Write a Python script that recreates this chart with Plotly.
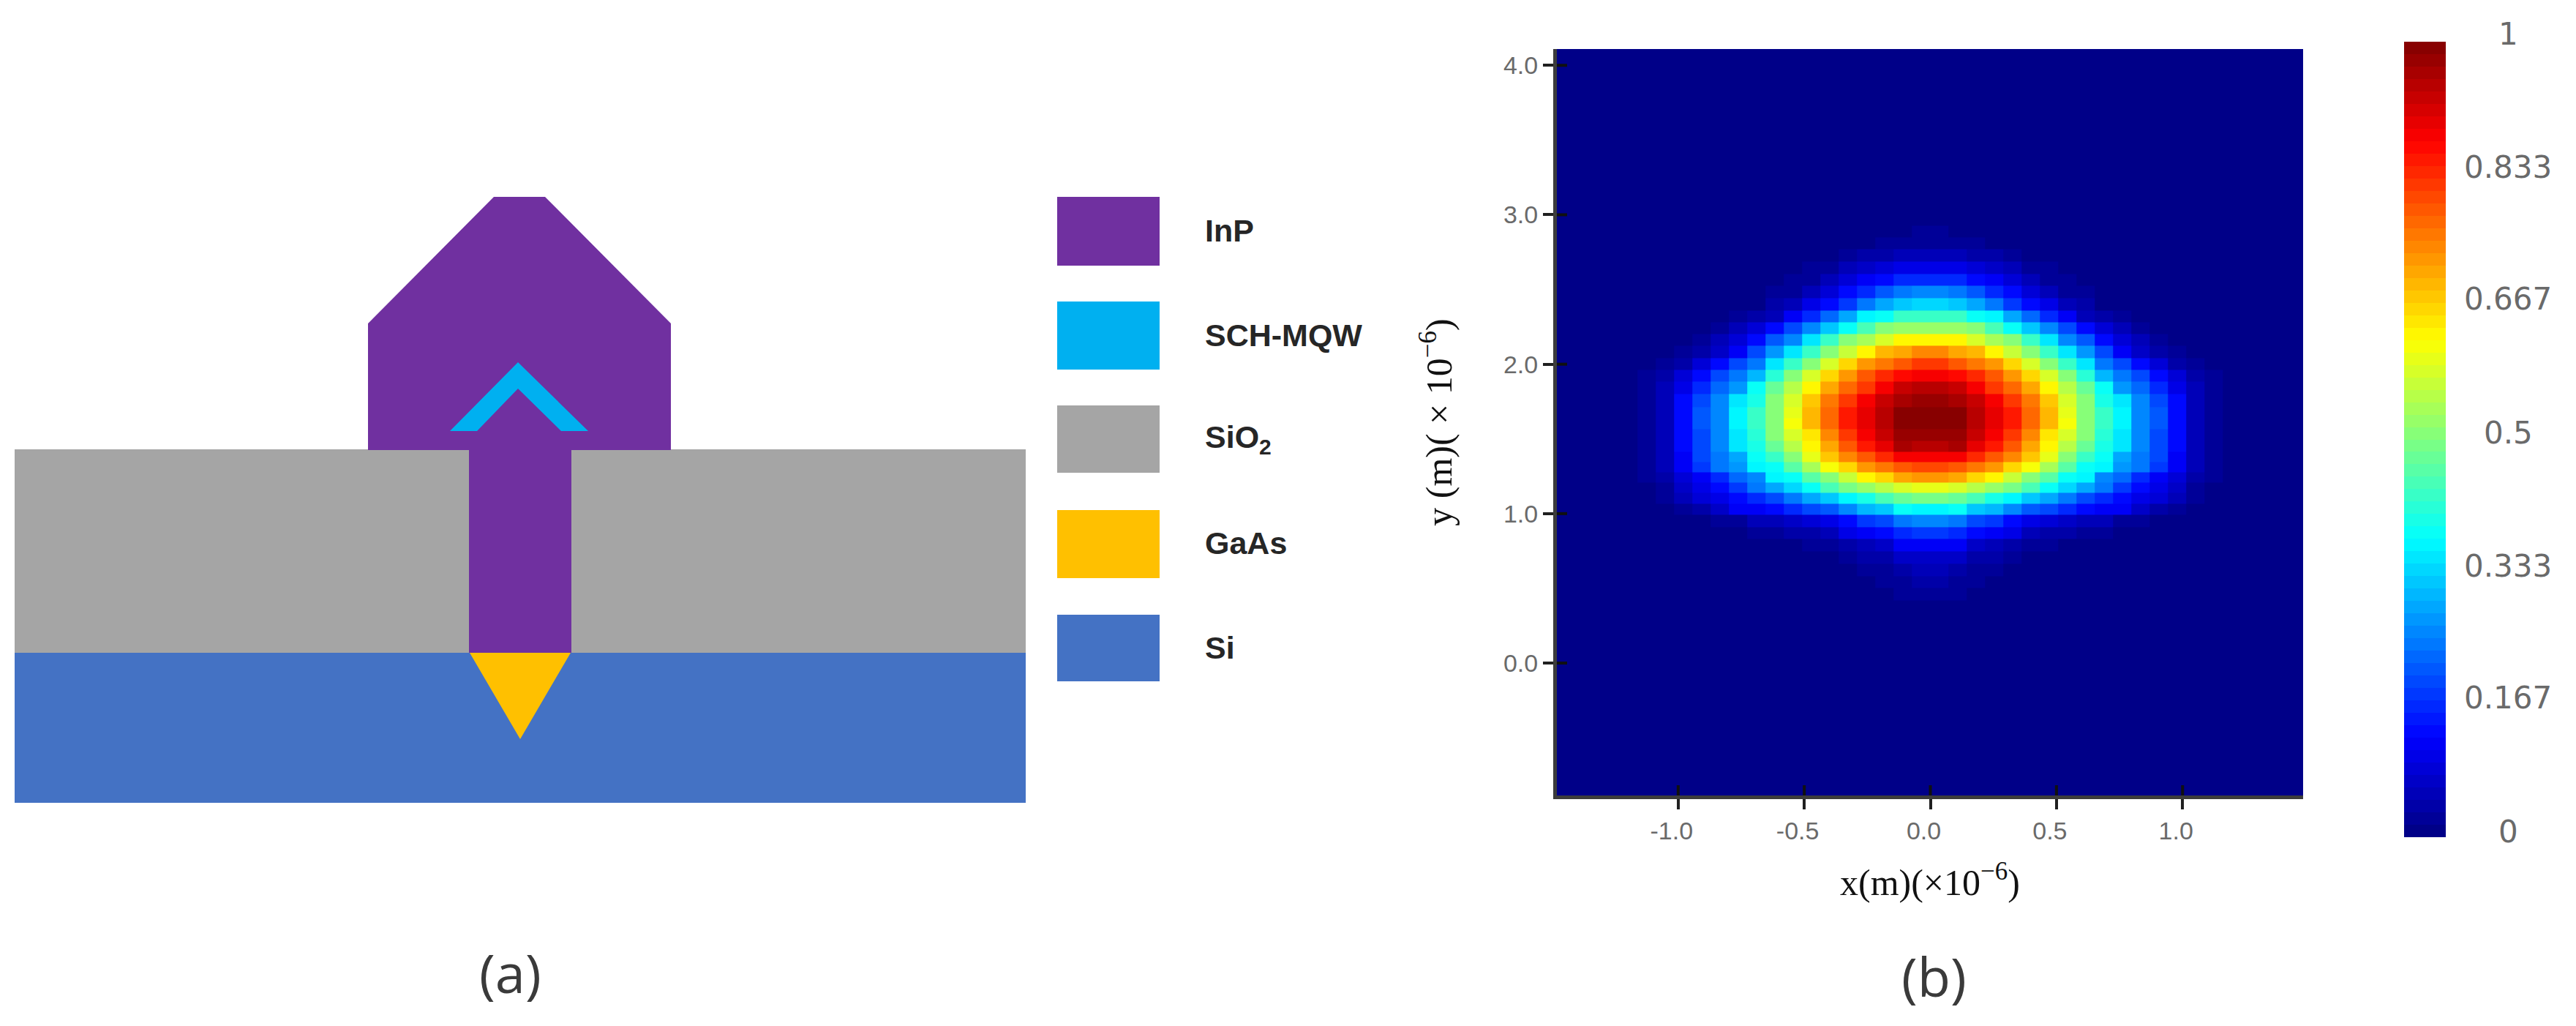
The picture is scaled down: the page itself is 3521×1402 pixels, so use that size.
import plotly.graph_objects as go

# ---------- panel (b): optical field ----------
# x cell edges from the centre outwards (mirrored below)
x_half_edges = [0, 0.0725, 0.145, 0.2175, 0.29, 0.3625, 0.435, 0.5075, 0.58, 0.6525,
                0.725, 0.7975, 0.87, 0.9425, 1.015, 1.0875, 1.16, 1.2325, 1.55]
# y cell edges from the top down
y_edges = [4.2, 3.012, 2.928, 2.850, 2.772, 2.685, 2.605, 2.524, 2.440, 2.360, 2.279, 2.200,
           2.122, 2.042, 1.964, 1.882, 1.801, 1.714, 1.641, 1.567, 1.489, 1.415, 1.347,
           1.278, 1.210, 1.141, 1.068, 0.994, 0.911, 0.833, 0.749, 0.666, 0.583, 0.504,
           0.421, 0.338, 0.260, -1.0]
# one row per y cell (between the two outer cells); columns run from the centre outwards
field_rows = [
    [.01, .005],
    [.02, .015, .01, .005],
    [.03, .025, .02, .015, .01],
    [.06, .05, .045, .035, .025, .015, .01, .005],
    [.10, .10, .09, .07, .05, .03, .02, .01, .005],
    [.165, .16, .13, .12, .09, .06, .03, .02, .01],
    [.25, .24, .21, .17, .125, .09, .05, .03, .02, .005],
    [.34, .32, .29, .24, .18, .14, .10, .06, .035, .015, .005],
    [.435, .425, .38, .36, .29, .225, .165, .11, .06, .04, .02, .01],
    [.53, .52, .50, .445, .385, .32, .255, .19, .125, .09, .05, .025, .01],
    [.64, .625, .585, .54, .50, .425, .355, .265, .21, .13, .09, .05, .03, .01],
    [.735, .715, .69, .64, .575, .51, .435, .35, .28, .19, .12, .075, .045, .02, .01],
    [.815, .795, .765, .72, .67, .585, .51, .43, .355, .235, .19, .13, .085, .04, .02, .01],
    [.875, .865, .84, .79, .72, .66, .585, .50, .415, .31, .235, .19, .14, .085, .04, .02, .01],
    [.945, .93, .89, .825, .775, .71, .635, .555, .475, .375, .275, .225, .17, .10, .05, .025, .01],
    [.978, .965, .93, .875, .825, .75, .68, .58, .50, .40, .345, .255, .195, .125, .055, .025, .01],
    [1.0, .985, .94, .895, .85, .77, .69, .60, .51, .43, .36, .265, .21, .125, .055, .025, .01],
    [1.0, .99, .945, .90, .85, .77, .69, .61, .51, .435, .36, .265, .21, .125, .055, .025, .01],
    [.98, .975, .93, .875, .815, .745, .65, .59, .51, .42, .345, .265, .20, .125, .055, .025, .01],
    [.945, .965, .90, .85, .795, .71, .64, .56, .48, .40, .345, .255, .20, .125, .055, .025, .01],
    [.875, .875, .835, .79, .735, .68, .60, .51, .435, .375, .29, .235, .19, .12, .055, .025, .01],
    [.805, .785, .765, .73, .67, .615, .54, .455, .39, .36, .275, .235, .175, .115, .05, .025, .01],
    [.72, .705, .67, .625, .575, .50, .455, .385, .365, .265, .225, .165, .12, .085, .04, .02, .01],
    [.605, .59, .56, .52, .49, .445, .385, .33, .29, .235, .18, .13, .105, .07, .03, .01],
    [.49, .48, .445, .405, .37, .32, .285, .245, .20, .165, .125, .105, .08, .05, .02, .01],
    [.37, .375, .325, .305, .255, .215, .19, .165, .125, .12, .11, .07, .04, .02, .01],
    [.265, .245, .19, .18, .14, .095, .08, .07, .06, .05, .03, .02, .01],
    [.175, .165, .125, .12, .10, .055, .045, .035, .025, .02, .01],
    [.12, .11, .07, .06, .045, .025, .02, .015, .01],
    [.075, .065, .04, .035, .025, .015, .01, .005],
    [.05, .045, .025, .02, .015, .01],
    [.035, .03, .02, .015, .01],
    [.025, .02, .01],
    [.015, .01],
    [.01, .005],
]
x_ticks = [-1.0, -0.5, 0.0, 0.5, 1.0]
x_tick_labels = ["-1.0", "-0.5", "0.0", "0.5", "1.0"]
y_ticks = [0.0, 1.0, 2.0, 3.0, 4.0]
y_tick_labels = ["0.0", "1.0", "2.0", "3.0", "4.0"]
bar_values = [0, 0.167, 0.333, 0.5, 0.667, 0.833, 1]
bar_labels = ["0", "0.167", "0.333", "0.5", "0.667", "0.833", "1"]

# ---------- panel (a): cross-section, in schematic units ----------
gray_x = [20, 1402, 1402, 20, 20]
gray_y = [614, 614, 892, 892, 614]
si_x = [20, 1402, 1402, 20, 20]
si_y = [892, 892, 1097, 1097, 892]
inp_x = [675, 745, 917, 917, 781, 781, 641, 641, 503, 503, 675]
inp_y = [269, 269, 442, 615, 615, 892, 892, 615, 615, 442, 269]
mqw_x = [708, 804, 767, 708, 652, 615, 708]
mqw_y = [495, 589, 589, 531, 589, 589, 495]
gaas_x = [642, 780, 711, 642]
gaas_y = [892, 892, 1010, 892]

legend_names = ["InP", "SCH-MQW", "SiO<sub>2</sub>", "GaAs", "Si"]
legend_colors = ["#7030A0", "#00B0F0", "#A5A5A5", "#FFC000", "#4472C4"]
legend_tops = [269, 412, 554, 697, 840]
legend_bottoms = [363, 505, 646, 790, 931]
legend_text_y = [315, 458, 600, 742, 885]

W, H = 3521, 1402
HX0, HX1, HY0, HY1 = 2128, 3148, 67, 1087

fig = go.Figure()


def poly(xs, ys, color, name):
    fig.add_trace(go.Scatter(x=xs, y=ys, mode="lines", fill="toself", fillcolor=color,
                             line=dict(width=0, color=color), name=name, showlegend=False,
                             xaxis="x2", yaxis="y2", hoverinfo="name"))


poly(gray_x, gray_y, "#A5A5A5", "SiO2")
poly(si_x, si_y, "#4472C4", "Si")
poly(inp_x, inp_y, "#7030A0", "InP")
poly(mqw_x, mqw_y, "#00B0F0", "SCH-MQW")
poly(gaas_x, gaas_y, "#FFC000", "GaAs")

for name, color, top, bottom in zip(legend_names, legend_colors, legend_tops, legend_bottoms):
    poly([1445, 1585, 1585, 1445, 1445], [top, top, bottom, bottom, top], color, name)

# heat map ------------------------------------------------------------
n_half = len(x_half_edges) - 1
x_edges = [-v for v in x_half_edges[:0:-1]] + x_half_edges
rows = [[0.0] * n_half] + [r + [0.0] * (n_half - len(r)) for r in field_rows] + [[0.0] * n_half]
z = [r[::-1] + r for r in rows]

jet_stops = [(0.0, (0, 0, 128)), (0.125, (0, 0, 255)), (0.375, (0, 255, 255)),
             (0.625, (255, 255, 0)), (0.875, (255, 0, 0)), (1.0, (128, 0, 0))]


def jet(v):
    for (a, ca), (b, cb) in zip(jet_stops, jet_stops[1:]):
        if v <= b:
            t = (v - a) / (b - a)
            return "rgb(%d,%d,%d)" % tuple(round(p + (q - p) * t) for p, q in zip(ca, cb))
    return "rgb(128,0,0)"


levels = 64
scale = []
for i in range(levels):
    c = jet((i + 0.5) / levels)
    scale += [[i / levels, c], [(i + 1) / levels, c]]

fig.add_trace(go.Heatmap(
    x=x_edges, y=y_edges[::-1], z=z[::-1], zmin=0, zmax=1, colorscale=scale,
    xaxis="x", yaxis="y", hoverinfo="skip",
    colorbar=dict(x=3286 / W, xanchor="left", xpad=0, y=1 - 57 / H, yanchor="top", ypad=0,
                  thicknessmode="pixels", thickness=57, lenmode="pixels", len=1087,
                  outlinewidth=0, ticks="", showticklabels=False),
))

# inner parts of the tick marks, which straddle the axis lines
inner = dict(color="#101010", width=4)
for v in x_ticks:
    fig.add_shape(type="line", xref="x", yref="y domain", x0=v, x1=v, y0=0, y1=14 / (HY1 - HY0), line=inner)
for v in y_ticks:
    fig.add_shape(type="line", xref="x domain", yref="y", y0=v, y1=v, x0=0, x1=14 / (HX1 - HX0), line=inner)

ann = []


def label(x, y, text, size, color, family, anchor="center", weight=None):
    ann.append(dict(x=x, y=y, xref="x2", yref="y2", text=text, showarrow=False, xanchor=anchor,
                    yanchor="middle", font=dict(size=size, color=color, family=family, weight=weight)))


for name, y in zip(legend_names, legend_text_y):
    label(1645, y, name, 43, "#262626", "Liberation Sans", "left", 700)
for v, t in zip(bar_values, bar_labels):
    label(3428, 1136 - v * 1090, t, 42, "#6a6a6a", "DejaVu Sans")
label(697, 1328, "(a)", 74, "#3a3a3a", "Open Sans")
label(2643, 1333, "(b)", 74, "#3a3a3a", "Open Sans")

tick_font = dict(size=34, color="#6a6a6a", family="Liberation Sans")
title_font = dict(size=50, color="#111111", family="Liberation Serif")
fig.update_layout(
    width=W, height=H, autosize=False, margin=dict(l=0, r=0, t=0, b=0),
    paper_bgcolor="white", plot_bgcolor="rgba(0,0,0,0)", annotations=ann, showlegend=False,
    xaxis=dict(domain=[HX0 / W, HX1 / W], range=[-1.481, 1.478], anchor="y",
               tickmode="array", tickvals=x_ticks, ticktext=x_tick_labels,
               ticks="outside", ticklen=14, tickwidth=4, tickcolor="#202020",
               tickfont=tick_font, ticklabelshift=-9, showgrid=False, zeroline=False,
               showline=True, linewidth=5, linecolor="#3c3c3c",
               title=dict(text="x(m)(×10<sup>−6</sup>)", font=title_font, standoff=37)),
    yaxis=dict(domain=[1 - HY1 / H, 1 - HY0 / H], range=[-0.886, 4.109], anchor="x",
               tickmode="array", tickvals=y_ticks, ticktext=y_tick_labels,
               ticks="outside", ticklen=14, tickwidth=4, tickcolor="#202020",
               tickfont=tick_font, showgrid=False, zeroline=False,
               showline=True, linewidth=5, linecolor="#3c3c3c",
               title=dict(text="y (m)( × 10<sup>−6</sup>)", font=title_font, standoff=56)),
    xaxis2=dict(domain=[0, 1], range=[0, W], anchor="y2", visible=False),
    yaxis2=dict(domain=[0, 1], range=[H, 0], anchor="x2", visible=False),
)

fig.write_html("out.html", post_script="document.body.style.margin='0';",
               config={"displayModeBar": False})
